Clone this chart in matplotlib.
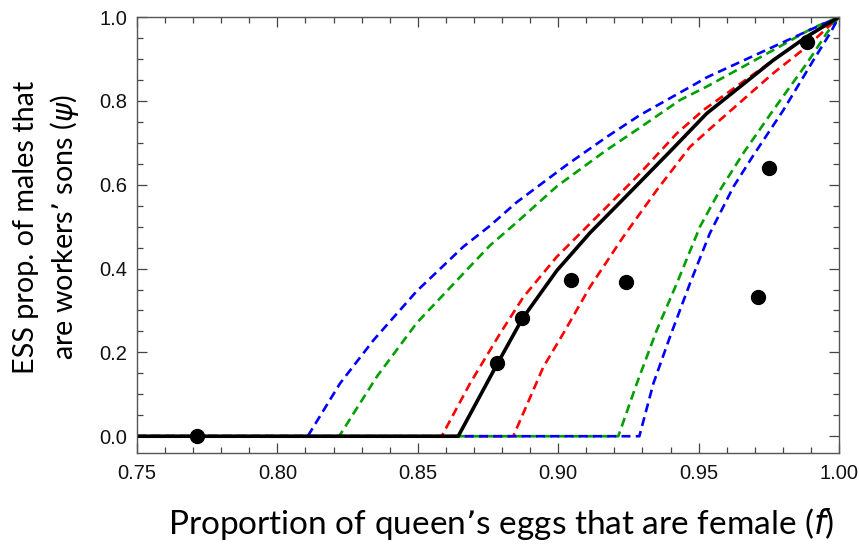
import matplotlib
matplotlib.use("Agg")
import matplotlib.pyplot as plt
from matplotlib.ticker import MultipleLocator

# ---- data ----
black_x = [0.75, 0.8644, 0.8781, 0.8872, 0.8995, 0.9113, 0.9256, 0.9398, 0.9529, 0.9766, 0.9885, 1.0]
black_y = [0.0, 0.0, 0.170, 0.280, 0.395, 0.485, 0.582, 0.679, 0.770, 0.897, 0.953, 1.0]

red_lo_x = [0.75, 0.8585, 0.8686, 0.8793, 0.8876, 0.8995, 0.9137, 0.9280, 0.9422, 0.9517, 0.9766, 0.9885, 1.0]
red_lo_y = [0.0, 0.0, 0.126, 0.245, 0.332, 0.428, 0.523, 0.619, 0.722, 0.778, 0.897, 0.953, 1.0]

red_hi_x = [0.75, 0.8840, 0.8947, 0.9018, 0.9113, 0.9232, 0.9351, 0.9469, 0.9540, 0.9766, 0.9885, 1.0]
red_hi_y = [0.0, 0.0, 0.165, 0.245, 0.356, 0.476, 0.587, 0.690, 0.733, 0.866, 0.929, 1.0]

green_lo_x = [0.75, 0.8220, 0.8354, 0.8496, 0.8662, 0.8757, 0.8852, 0.8995, 0.9173, 0.9291, 0.9434, 0.9529, 0.9766, 0.9907, 1.0]
green_lo_y = [0.0, 0.0, 0.142, 0.270, 0.388, 0.455, 0.510, 0.596, 0.683, 0.736, 0.802, 0.834, 0.921, 0.974, 1.0]

green_hi_x = [0.75, 0.9214, 0.9280, 0.9351, 0.9422, 0.9505, 0.9576, 0.9659, 0.9766, 0.9885, 0.9956, 1.0]
green_hi_y = [0.0, 0.0, 0.126, 0.253, 0.364, 0.500, 0.587, 0.675, 0.778, 0.889, 0.961, 1.0]

blue_lo_x = [0.75, 0.8108, 0.8223, 0.8342, 0.8496, 0.8662, 0.8757, 0.8852, 0.9030, 0.9173, 0.9291, 0.9493, 0.9529, 0.9766, 0.9909, 1.0]
blue_lo_y = [0.0, 0.0, 0.126, 0.229, 0.346, 0.452, 0.502, 0.558, 0.647, 0.714, 0.766, 0.842, 0.856, 0.929, 0.973, 1.0]

blue_hi_x = [0.75, 0.9289, 0.9339, 0.9398, 0.9469, 0.9540, 0.9624, 0.9695, 0.9802, 0.9909, 0.9968, 1.0]
blue_hi_y = [0.0, 0.0, 0.126, 0.237, 0.364, 0.484, 0.595, 0.670, 0.778, 0.897, 0.961, 1.0]

obs_x = [0.7713, 0.8781, 0.8872, 0.9044, 0.9241, 0.9713, 0.9752, 0.9885]
obs_y = [0.0, 0.1735, 0.282, 0.372, 0.368, 0.332, 0.640, 0.941]

x_ticks = [0.75, 0.80, 0.85, 0.90, 0.95, 1.00]
x_ticklabels = ["0.75", "0.80", "0.85", "0.90", "0.95", "1.00"]
y_ticks = [0.0, 0.2, 0.4, 0.6, 0.8, 1.0]
y_ticklabels = ["0.0", "0.2", "0.4", "0.6", "0.8", "1.0"]

# ---- figure ----
fig = plt.figure(figsize=(8.59, 5.44), dpi=100)
ax = fig.add_axes([137/859, 1-453/544, (839-137)/859, (453-17)/544])

dash = (0, (3.4, 2.0))
lw_d = 1.9
ax.plot(red_lo_x, red_lo_y, color="#ff0000", lw=lw_d, linestyle=dash)
ax.plot(red_hi_x, red_hi_y, color="#ff0000", lw=lw_d, linestyle=dash)
ax.plot(green_lo_x, green_lo_y, color="#00a000", lw=lw_d, linestyle=dash)
ax.plot(green_hi_x, green_hi_y, color="#00a000", lw=lw_d, linestyle=(2.7, (3.4, 2.0)))
ax.plot(blue_lo_x, blue_lo_y, color="#0000ff", lw=lw_d, linestyle=dash)
ax.plot(blue_hi_x, blue_hi_y, color="#0000ff", lw=lw_d, linestyle=(5.4, (3.4, 2.0)))
ax.plot(black_x, black_y, color="black", lw=2.6, solid_capstyle="butt")
ax.plot(obs_x, obs_y, "o", color="black", markersize=10, linestyle="none", zorder=5)

ax.set_xlim(0.75, 1.0)
ax.set_ylim(-0.04, 1.0)
ax.set_xticks(x_ticks)
ax.set_xticklabels(x_ticklabels)
ax.set_yticks(y_ticks)
ax.set_yticklabels(y_ticklabels)
ax.xaxis.set_minor_locator(MultipleLocator(0.01))
ax.yaxis.set_minor_locator(MultipleLocator(0.05))

tick_col = "#444444"
ax.tick_params(which="both", direction="in", top=True, right=True, color=tick_col, width=0.9)
ax.tick_params(which="major", length=7)
ax.tick_params(which="minor", length=4)
ax.tick_params(axis="both", which="major", labelsize=14.5, labelcolor="#111111")
ax.tick_params(axis="x", which="major", pad=8)
ax.tick_params(axis="y", which="major", pad=7)
for lab in ax.get_xticklabels() + ax.get_yticklabels():
    lab.set_fontfamily(["Liberation Sans", "DejaVu Sans"])
for sp in ax.spines.values():
    sp.set_color("#555555")
    sp.set_linewidth(1.0)

lbl_font = ["Lato", "DejaVu Sans"]
fig.text(501/859, 1-524/544, "Proportion of queen\u2019s eggs that are female ($\\mathit{f}$)",
         ha="center", va="center", fontsize=24, family=lbl_font)
fig.text(47/859, 1-227/544, "ESS prop. of males that\nare workers\u2019 sons ($\\mathit{\u03c8}$)",
         ha="center", va="center", rotation=90, fontsize=20.7, family=lbl_font,
         linespacing=1.35, multialignment="center")

fig.savefig("out.png", dpi=100)
